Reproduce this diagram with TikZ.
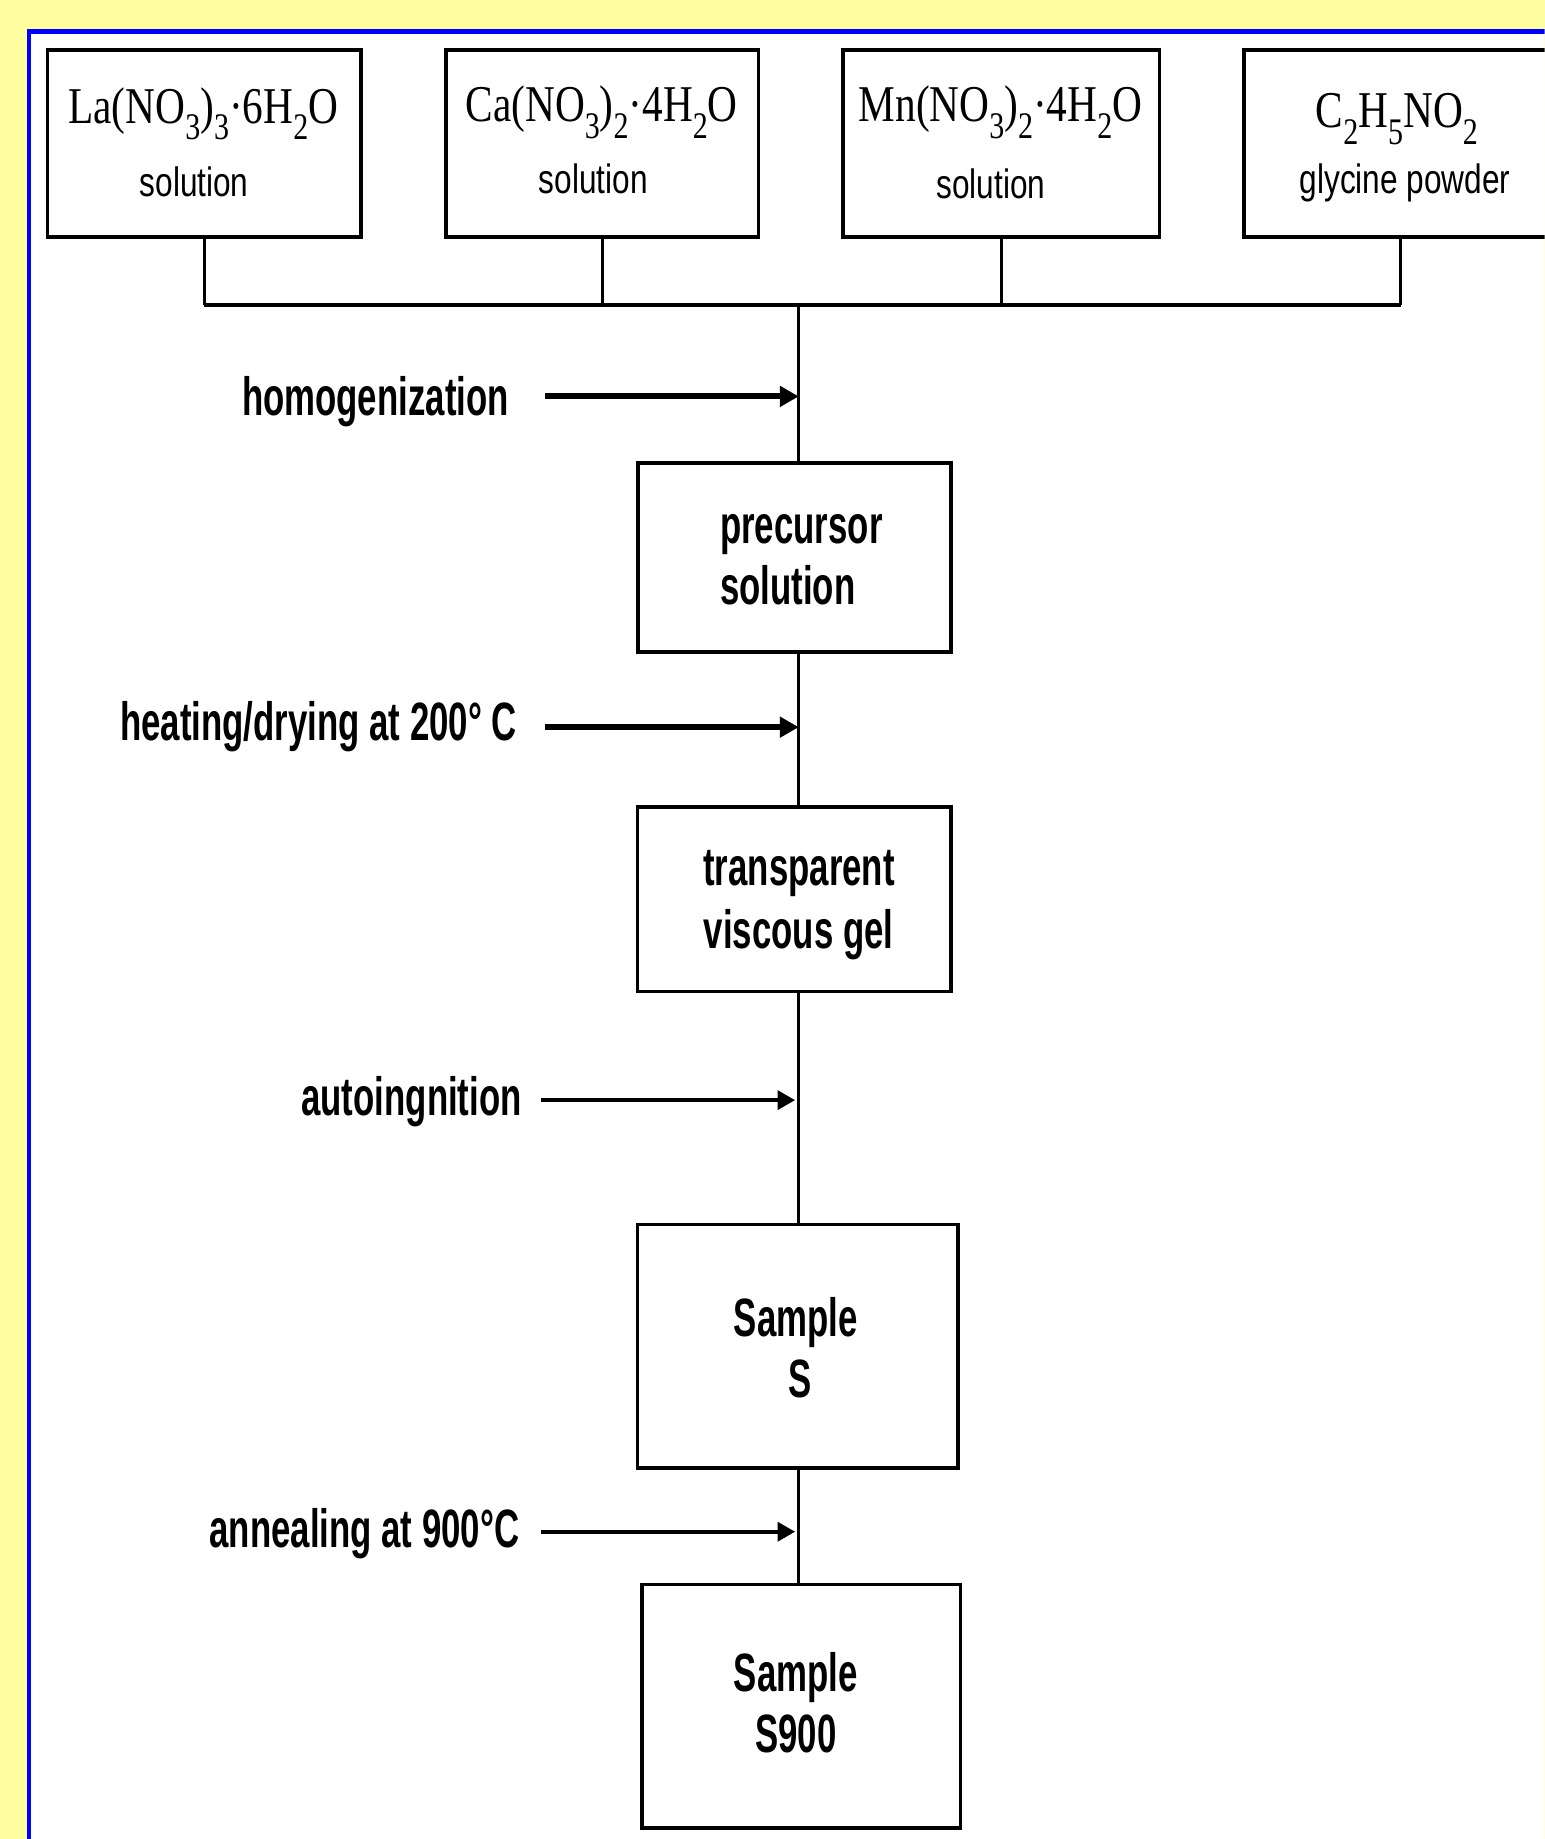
\documentclass[tikz,border=0pt]{standalone}
\usepackage{fontspec}
\usetikzlibrary{arrows.meta}
\newfontfamily\labfont[FakeStretch=0.645]{Liberation Sans}
\newfontfamily\smlfont[FakeStretch=0.77]{Liberation Sans}
\newfontfamily\frmfont[FakeStretch=0.8]{Liberation Serif}
\newcommand\chemsub[1]{\raisebox{-14pt}{\fontsize{32}{32}\selectfont #1}}
\definecolor{bgyellow}{RGB}{255,255,160}
\definecolor{frameblue}{RGB}{0,0,255}
\tikzset{
  box/.style={draw=black, line width=3.2pt, fill=white, inner sep=0pt, rectangle},
  lbl/.style={anchor=base east, inner sep=0pt, font=\labfont\bfseries\fontsize{46}{50}\selectfont},
  boxtxt/.style={anchor=base, inner sep=0pt, font=\labfont\bfseries\fontsize{46}{50}\selectfont},
  frm/.style={anchor=base, inner sep=0pt, font=\frmfont\fontsize{44}{48}\selectfont},
  sml/.style={anchor=base, inner sep=0pt, font=\smlfont\fontsize{35}{40}\selectfont},
  link/.style={draw=black, line width=2.5pt},
  busline/.style={draw=black, line width=3.5pt},
  arrthick/.style={draw=black, line width=5pt, -{Triangle[length=16pt,width=17pt]}},
  arrthin/.style={draw=black, line width=3.5pt, -{Triangle[length=15pt,width=16pt]}},
}
\begin{document}
\begin{tikzpicture}[x=1pt,y=1pt]
  % background and frame
  \fill[bgyellow] (0,0) rectangle (1317,-1568);
  \useasboundingbox (0,0) rectangle (1317,-1568);
  \clip (0,0) rectangle (1317,-1568);
  \fill[white] (24.8,-26.8) rectangle (1340,-1600);
  \draw[frameblue, line width=4pt] (24.8,-1600) -- (24.8,-26.8) -- (1340,-26.8);

  % top boxes
  \node[box, minimum width=267.5pt, minimum height=159.4pt] (b1) at (174.2,-122.3) {};
  \node[box, minimum width=266.4pt, minimum height=159.4pt] (b2) at (513.6,-122.3) {};
  \node[box, minimum width=269.6pt, minimum height=159.4pt] (b3) at (853.8,-122.3) {};
  \node[box, minimum width=267.5pt, minimum height=159.4pt] (b4) at (1194.3,-122.3) {};

  \node[frm] (f1) at (173.3,-105) {La(NO\chemsub{3})\chemsub{3}·6H\chemsub{2}O};
  \node[sml] (s1) at (165.5,-167.6) {solution};
  \node[frm] (f2) at (513,-104) {Ca(NO\chemsub{3})\chemsub{2}·4H\chemsub{2}O};
  \node[sml] (s2) at (506,-165) {solution};
  \node[frm] (f3) at (853,-104) {Mn(NO\chemsub{3})\chemsub{2}·4H\chemsub{2}O};
  \node[sml] (s3) at (845,-169) {solution};
  \node[frm] (f4) at (1191,-109) {C\chemsub{2}H\chemsub{5}NO\chemsub{2}};
  \node[sml] (s4) at (1198,-164.8) {glycine powder};

  % bus
  \coordinate (bus) at (681,-260);
  \draw[busline] (b1.south |- bus) -- (b4.south |- bus);
  \draw[link] (b1.south) -- (b1.south |- bus);
  \draw[link] (b2.south) -- (b2.south |- bus);
  \draw[link] (b3.south) -- (b3.south |- bus);
  \draw[link] (b4.south) -- (b4.south |- bus);

  % main column boxes
  \node[box, minimum width=266.9pt, minimum height=160.8pt] (pre) at (677.4,-475.4) {};
  \node[box, minimum width=267.1pt, minimum height=157.2pt] (gel) at (677.2,-766.8) {};
  \node[box, minimum width=273.3pt, minimum height=207.7pt] (ss) at (680.3,-1147.9) {};
  \node[box, minimum width=271.4pt, minimum height=207.4pt] (s9) at (683.2,-1454.7) {};

  \node[boxtxt, anchor=base west] (t1) at (613.8,-463) {precursor};
  \node[boxtxt, anchor=base west] (t2) at (613.8,-515.7) {solution};
  \node[boxtxt] (t3) at (681.3,-755.3) {transparent};
  \node[boxtxt] (t4) at (681,-808.4) {viscous gel};
  \node[boxtxt] (t5) at (678.5,-1139.5) {Sample};
  \node[boxtxt] (t6) at (682,-1191.8) {S};
  \node[boxtxt] (t7) at (678.5,-1442) {Sample};
  \node[boxtxt] (t8) at (678.5,-1494.5) {S900};

  % main vertical connectors
  \draw[link] (bus) -- (bus |- pre.north);
  \draw[link] (bus |- pre.south) -- (bus |- gel.north);
  \draw[link] (bus |- gel.south) -- (bus |- ss.north);
  \draw[link] (bus |- ss.south) -- (bus |- s9.north);

  % process labels and arrows
  \node[lbl] (l1) at (434,-354) {homogenization};
  \node[lbl] (l2) at (441,-631) {heating/drying at 200° C};
  \node[lbl] (l3) at (445,-951) {autoingnition};
  \node[lbl] (l4) at (443,-1319.6) {annealing at 900°C};

  \coordinate (a1) at (465,-338);
  \coordinate (a2) at (465,-620);
  \coordinate (a3) at (461,-938);
  \coordinate (a4) at (461,-1306);
  \draw[arrthick] (a1) -- (a1 -| bus);
  \draw[arrthick] (a2) -- (a2 -| bus);
  \draw[arrthin] (a3) -- ([xshift=-3pt]a3 -| bus);
  \draw[arrthin] (a4) -- ([xshift=-3pt]a4 -| bus);
\end{tikzpicture}
\end{document}
